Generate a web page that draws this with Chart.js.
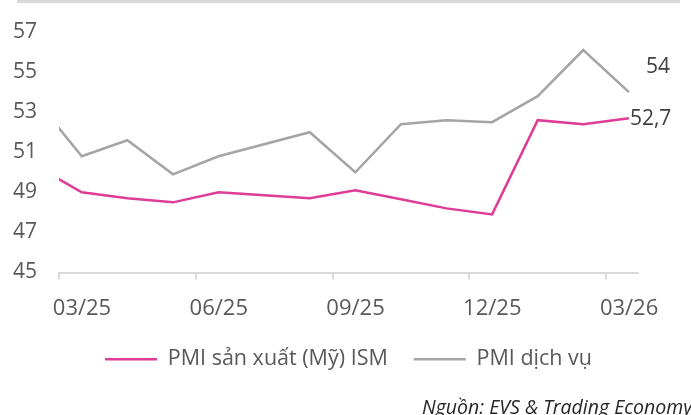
<!DOCTYPE html>
<html>
<head>
<meta charset="utf-8">
<script src="https://cdn.jsdelivr.net/npm/chart.js@4/dist/chart.umd.min.js"></script>
<style>
  html, body { margin:0; padding:0; background:#fff; overflow:hidden; }
  #wrap { position:relative; width:691px; height:415px; overflow:hidden; }
  #topline { position:absolute; left:17px; top:0; width:663px; height:3px; background:#d9d9d9; }
  #src { position:absolute; left:422px; top:393px; font:italic 19.5px 'Open Sans', sans-serif; color:#262626; white-space:nowrap; }
</style>
</head>
<body>
<div id="wrap">
  <canvas id="c" width="691" height="415"></canvas>
  <div id="topline"></div>
  <div id="src">Nguồn: EVS &amp; Trading Economy</div>
</div>
<script>
'use strict';

// --- Data (tháng 07/25 không có số liệu trên hình) ---
const months  = ['02/25','03/25','04/25','05/25','06/25','08/25','09/25','10/25','11/25','12/25','01/26','02/26','03/26'];
const pmiMfg  = [50.3, 49.0, 48.7, 48.5, 49.0, 48.7, 49.1, 48.65, 48.2, 47.9, 52.6, 52.4, 52.7];
const pmiSvc  = [53.6, 50.8, 51.6, 49.9, 50.8, 52.0, 50.0, 52.4, 52.6, 52.5, 53.8, 56.1, 54.0];
const xLabels = ['03/25','06/25','09/25','12/25','03/26'];
const yTicks  = [45, 47, 49, 51, 53, 55, 57];

// --- Utils ---
// 'MM/YY' -> số tháng kể từ 03/25
function monthIndex(s){
  const [m, y] = s.split('/').map(Number);
  return (y - 25) * 12 + (m - 3);
}
const toPts = vals => vals.map((v, i) => ({ x: monthIndex(months[i]), y: v }));
const tickVals = xLabels.map(l => monthIndex(l) - 0.5);
const fmt = v => String(v).replace('.', ',');

const FONT = "'Open Sans', sans-serif";
const PINK = '#de3c96';
const GREY = '#a5a5a5';

// nhãn giá trị cuối cho mỗi đường
const lastLabels = {
  id: 'lastLabels',
  afterDatasetsDraw(chart){
    const ctx = chart.ctx;
    ctx.save();
    ctx.font = '21px ' + FONT;
    ctx.fillStyle = '#404040';
    ctx.textBaseline = 'middle';
    ctx.textAlign = 'left';
    const m0 = chart.getDatasetMeta(0).data, m1 = chart.getDatasetMeta(1).data;
    const p0 = m0[m0.length-1], p1 = m1[m1.length-1];
    ctx.fillText(fmt(pmiMfg[pmiMfg.length-1]), p0.x + 1, p0.y + 1);
    ctx.fillText(fmt(pmiSvc[pmiSvc.length-1]), p1.x + 17, p1.y - 25);
    ctx.restore();
  }
};

new Chart(document.getElementById('c'), {
  type: 'line',
  data: {
    datasets: [
      { label: 'PMI sản xuất (Mỹ) ISM', data: toPts(pmiMfg), borderColor: PINK, backgroundColor: PINK,
        borderWidth: 2.5, pointRadius: 0, tension: 0 },
      { label: 'PMI dịch vụ', data: toPts(pmiSvc), borderColor: GREY, backgroundColor: GREY,
        borderWidth: 2.5, pointRadius: 0, tension: 0 }
    ]
  },
  options: {
    responsive: false,
    animation: false,
    layout: { padding: { top: 32, right: 53, bottom: 35, left: 0 } },
    plugins: {
      legend: {
        position: 'bottom',
        fullSize: false,
        labels: {
          usePointStyle: true, pointStyle: 'line', pointStyleWidth: 52,
          font: { family: FONT, size: 21.5 }, color: '#595959', padding: 26
        }
      },
      tooltip: { enabled: false }
    },
    scales: {
      x: {
        type: 'linear', min: -0.5, max: 12.2,
        afterBuildTicks: s => { s.ticks = tickVals.map(v => ({ value: v })); },
        afterFit: s => { s.height = 50; },
        grid: { drawOnChartArea: false, drawTicks: true, tickLength: 7, color: '#d9d9d9', lineWidth: 2 },
        border: { color: '#d9d9d9', width: 2 },
        ticks: {
          labelOffset: 23, padding: 16, maxRotation: 0, autoSkip: false,
          font: { family: FONT, size: 22 }, color: '#595959',
          callback: v => xLabels[Math.round((v + 0.5) / 3)]
        }
      },
      y: {
        min: 45, max: 57,
        afterBuildTicks: s => { s.ticks = yTicks.map(v => ({ value: v })); },
        afterFit: s => { s.width = 59; },
        grid: { display: false },
        border: { display: false },
        ticks: { padding: 14, font: { family: FONT, size: 21 }, color: '#595959' }
      }
    }
  },
  plugins: [lastLabels]
});
</script>
</body>
</html>
